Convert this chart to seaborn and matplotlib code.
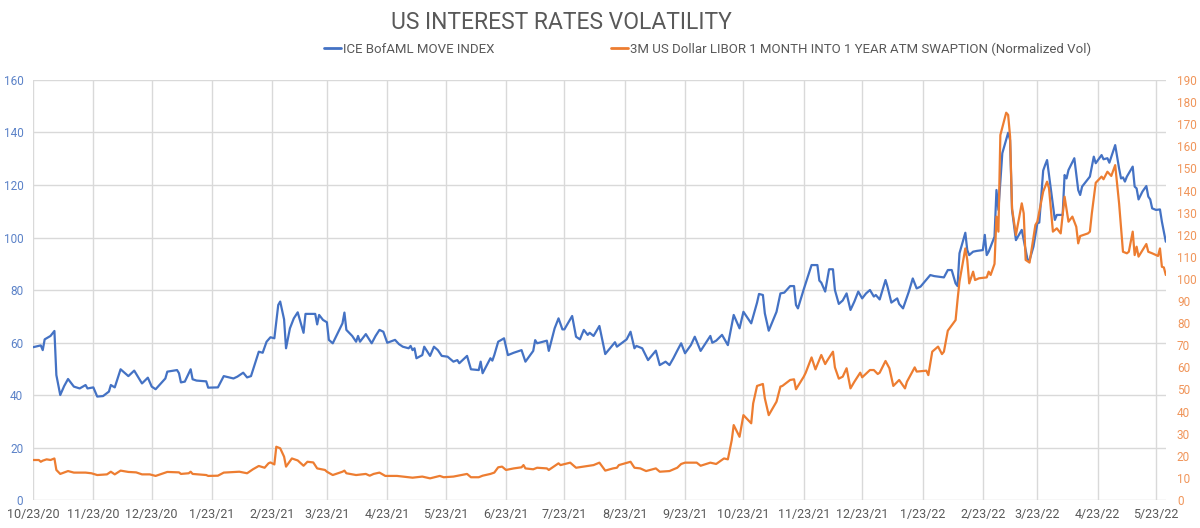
import numpy as np
import pandas as pd
import matplotlib
matplotlib.use("Agg")
import matplotlib.pyplot as plt
import matplotlib.dates as mdates
from matplotlib.lines import Line2D
import seaborn as sns

# ---------------- data ----------------
start_date = "2020-10-23"
end_day = 582  # last observation, days after start_date

# ICE BofAML MOVE INDEX (left axis); days after start_date
move_day = [0, 3, 4, 5, 6, 9, 11, 12, 14, 16, 18, 21, 24, 27, 28, 31, 33, 36, 39, 40,
            42, 45, 49, 52, 56, 59, 61, 63, 68, 69, 74, 75, 76, 78, 81, 82, 84, 89, 90, 95,
            98, 103, 105, 108, 110, 112, 116, 118, 120, 122, 124, 126, 127, 129, 130, 132, 134, 136, 139, 140,
            145, 146, 147, 149, 151, 152, 154, 159, 160, 161, 164, 166, 167, 168, 171, 174, 176, 178, 180, 182,
            186, 188, 190, 193, 194, 195, 196, 197, 200, 201, 204, 206, 208, 210, 213, 216, 218, 219, 223, 225,
            229, 230, 231, 235, 236, 237, 239, 242, 244, 247, 251, 253, 257, 258, 259, 264, 265, 268, 270, 272,
            273, 277, 279, 281, 283, 285, 286, 288, 291, 294, 299, 300, 305, 307, 309, 310, 313, 316, 320, 322,
            325, 327, 329, 331, 333, 335, 338, 340, 343, 348, 349, 351, 354, 357, 360, 363, 365, 369, 372, 373,
            375, 376, 378, 382, 384, 386, 389, 391, 392, 393, 396, 400, 403, 404, 405, 407, 409, 411, 412, 414,
            416, 418, 420, 422, 424, 426, 428, 430, 432, 433, 435, 438, 439, 441, 444, 445, 447, 450, 452, 454,
            456, 461, 463, 468, 470, 472, 474, 475, 476, 479, 480, 481, 483, 485, 488, 489, 490, 491, 494, 495,
            496, 498, 501, 502, 503, 505, 507, 508, 509, 511, 512, 514, 516, 517, 519, 520, 521, 525, 526, 529,
            530, 531, 532, 535, 537, 538, 539, 541, 543, 544, 545, 546, 549, 550, 552, 553, 556, 558, 559, 560,
            561, 562, 565, 566, 567, 568, 570, 572, 573, 574, 575, 577, 579, 580, 582]
move_val = [58.2, 58.7, 58.9, 57.1, 61.2, 62.5, 64.4, 47.6, 40.0, 43.4, 46.1, 43.2, 42.5, 43.8, 42.5, 42.9, 39.4, 39.6, 41.3, 43.8,
            42.9, 49.8, 47.2, 49.3, 44.4, 46.6, 43.2, 42.2, 46.3, 48.9, 49.5, 48.3, 44.8, 45.1, 49.8, 46.0, 45.5, 45.2, 42.8, 42.9,
            47.2, 46.3, 47.0, 48.5, 46.7, 47.2, 56.5, 56.1, 60.3, 62.0, 61.6, 74.3, 75.6, 68.8, 57.8, 65.4, 69.2, 71.5, 63.7, 70.9,
            70.9, 66.9, 70.5, 68.6, 67.7, 61.0, 59.7, 67.3, 71.4, 64.8, 62.5, 60.3, 62.5, 60.3, 63.2, 59.7, 62.5, 64.8, 64.1, 59.9,
            61.0, 59.4, 58.4, 57.8, 58.7, 57.1, 57.8, 54.0, 55.2, 58.4, 54.9, 58.4, 57.1, 54.9, 54.6, 52.7, 53.3, 52.1, 54.9, 49.8,
            49.5, 52.7, 48.3, 54.0, 53.1, 55.2, 60.3, 61.6, 55.2, 56.1, 57.1, 52.7, 56.8, 60.9, 59.7, 60.7, 56.8, 65.4, 69.2, 65.0,
            65.0, 70.1, 62.2, 61.2, 64.8, 62.9, 63.7, 62.5, 66.3, 55.6, 60.1, 58.4, 61.2, 64.1, 57.8, 58.7, 57.8, 53.3, 56.9, 51.4,
            52.7, 51.4, 54.0, 56.9, 59.7, 55.9, 59.0, 62.2, 56.8, 62.5, 59.9, 60.7, 62.9, 59.0, 70.5, 65.4, 71.7, 67.3, 75.2, 78.5,
            78.1, 71.1, 64.5, 71.7, 78.7, 79.0, 81.5, 81.5, 74.3, 73.0, 80.3, 89.5, 89.5, 83.6, 82.8, 79.4, 87.9, 87.9, 80.0, 74.7,
            76.0, 78.7, 72.4, 75.6, 79.4, 76.8, 78.7, 80.0, 77.5, 78.1, 76.4, 83.8, 81.3, 75.2, 76.8, 74.7, 73.0, 79.4, 84.4, 80.6,
            81.3, 85.7, 85.3, 84.8, 87.6, 87.6, 82.5, 81.5, 94.0, 101.8, 95.2, 93.3, 94.6, 94.9, 95.2, 101.0, 93.3, 94.6, 100.3, 118.1,
            110.5, 132.1, 139.9, 137.1, 110.5, 99.0, 101.6, 102.9, 99.0, 91.4, 91.4, 96.5, 105.4, 105.7, 125.5, 127.6, 129.5, 106.7, 108.6, 108.6,
            123.8, 122.5, 125.7, 130.2, 118.1, 116.2, 119.4, 121.3, 123.2, 127.0, 130.8, 128.3, 131.4, 129.8, 130.2, 128.5, 135.2, 126.3, 122.5, 122.9,
            121.3, 123.2, 127.0, 119.4, 118.7, 114.5, 117.5, 119.6, 115.6, 114.5, 111.1, 110.5, 110.7, 106.0, 98.4]

# 3M USD LIBOR 1M into 1Y ATM swaption normalized vol (right axis); days after start_date
swpt_day = [0, 3, 4, 5, 7, 9, 11, 12, 14, 18, 21, 27, 30, 33, 38, 40, 42, 45, 49, 53,
            56, 60, 63, 67, 69, 75, 76, 80, 81, 82, 89, 90, 95, 98, 106, 110, 113, 116, 119, 121,
            122, 124, 125, 127, 129, 130, 133, 136, 139, 141, 144, 146, 150, 151, 154, 159, 160, 161, 166, 171,
            173, 175, 178, 181, 187, 195, 200, 204, 209, 211, 216, 223, 225, 229, 231, 235, 237, 239, 241, 243,
            247, 251, 252, 253, 257, 259, 264, 265, 270, 271, 276, 279, 285, 288, 291, 294, 298, 300, 301, 307,
            309, 312, 315, 320, 322, 327, 331, 333, 335, 341, 343, 348, 351, 355, 357, 359, 360, 363, 365, 369,
            370, 372, 375, 376, 378, 382, 384, 385, 389, 391, 392, 396, 397, 400, 402, 405, 407, 408, 411, 412,
            414, 416, 418, 420, 422, 425, 426, 430, 432, 434, 435, 438, 440, 442, 445, 448, 449, 453, 454, 459,
            460, 462, 465, 467, 468, 470, 474, 475, 476, 479, 480, 481, 483, 484, 486, 490, 491, 492, 494, 495,
            496, 497, 500, 501, 502, 503, 505, 508, 509, 510, 512, 515, 516, 519, 521, 522, 524, 526, 528, 530,
            532, 534, 536, 537, 538, 542, 543, 544, 546, 549, 550, 552, 554, 556, 558, 560, 562, 563, 565, 566,
            567, 568, 572, 573, 575, 578, 579, 580, 581, 582]
swpt_val = [18.1, 18.1, 17.3, 17.8, 18.4, 18.1, 18.8, 13.6, 11.8, 13.1, 12.4, 12.4, 12.1, 11.3, 11.6, 12.8, 11.6, 13.3, 12.7, 12.5,
            11.6, 11.6, 10.9, 12.1, 12.7, 12.5, 11.8, 12.1, 12.8, 11.8, 11.3, 10.9, 11.0, 12.4, 12.8, 12.1, 13.9, 15.4, 14.6, 16.6,
            17.0, 16.1, 24.1, 23.4, 19.6, 15.1, 18.8, 17.9, 15.5, 17.3, 17.0, 14.3, 13.6, 12.8, 11.3, 12.8, 13.3, 12.1, 11.3, 11.8,
            11.0, 11.8, 12.4, 10.9, 10.9, 10.1, 10.6, 9.8, 10.9, 10.3, 10.6, 11.8, 10.3, 10.3, 11.0, 11.8, 12.4, 14.8, 15.1, 13.6,
            14.3, 14.8, 15.8, 14.3, 13.9, 14.6, 14.3, 13.6, 16.6, 15.8, 16.9, 14.6, 15.4, 15.8, 16.9, 13.3, 14.3, 14.6, 15.8, 17.3,
            14.6, 14.3, 13.1, 14.3, 12.8, 13.1, 14.6, 16.3, 16.9, 16.9, 15.5, 16.9, 16.3, 18.8, 18.4, 27.1, 33.9, 28.6, 38.4, 34.7,
            43.7, 51.6, 52.5, 46.0, 38.4, 44.5, 51.3, 51.6, 54.3, 54.6, 50.1, 55.8, 57.6, 64.5, 59.1, 65.6, 61.5, 63.0, 67.1, 60.0,
            54.9, 55.8, 59.6, 50.5, 53.5, 57.6, 55.5, 58.8, 58.8, 57.0, 57.6, 62.9, 59.6, 51.6, 54.3, 50.5, 53.5, 60.0, 58.1, 58.5,
            56.5, 67.1, 69.4, 66.0, 67.1, 76.6, 81.4, 90.5, 98.8, 113.8, 108.6, 98.0, 103.3, 99.5, 100.3, 100.7, 103.3, 101.8, 106.8, 128.2,
            121.4, 165.1, 175.2, 174.2, 164.4, 131.9, 119.9, 134.2, 129.7, 108.6, 107.4, 124.4, 125.9, 139.5, 144.0, 141.0, 121.4, 122.9, 120.6, 137.2,
            125.9, 128.2, 123.6, 116.1, 119.4, 120.6, 121.4, 129.7, 143.5, 146.3, 145.1, 148.5, 146.6, 151.5, 134.2, 112.3, 111.6, 112.3, 121.4, 110.8,
            114.6, 110.1, 115.8, 112.3, 111.6, 110.4, 113.8, 105.5, 105.2, 101.8]

title = "US INTEREST RATES VOLATILITY"
label_move = "ICE BofAML MOVE INDEX"
label_swpt = "3M US Dollar LIBOR 1 MONTH INTO 1 YEAR ATM SWAPTION (Normalized Vol)"
left_ticks = list(range(0, 161, 20))
right_ticks = list(range(0, 191, 10))

# ---------------- build frames ----------------
t0 = pd.Timestamp(start_date)
df_move = pd.DataFrame({"date": t0 + pd.to_timedelta(move_day, unit="D"), "value": move_val})
df_swpt = pd.DataFrame({"date": t0 + pd.to_timedelta(swpt_day, unit="D"), "value": swpt_val})

# ---------------- style ----------------
sns.set_style("white")
plt.rcParams["font.family"] = ["Roboto", "DejaVu Sans"]

BLUE = "#4472C4"
ORANGE = "#ED7D31"
GRID = "#D9D9D9"
TEXT = "#595959"

fig = plt.figure(figsize=(12, 5.28), dpi=100)
ax = fig.add_axes([0.0275, 0.053, 0.944, 0.7955])
ax2 = ax.twinx()

sns.lineplot(data=df_move, x="date", y="value", ax=ax, color=BLUE, lw=1.6, legend=False)
sns.lineplot(data=df_swpt, x="date", y="value", ax=ax2, color=ORANGE, lw=1.6, legend=False)

# axes limits & ticks
ax.set_xlim(t0, t0 + pd.Timedelta(days=end_day))
ax.set_ylim(0, 160)
ax2.set_ylim(0, 190)
ax.set_yticks(left_ticks)
ax2.set_yticks(right_ticks)

month_ticks = [t0 + pd.DateOffset(months=i) for i in range(20)]
ax.set_xticks(month_ticks)
ax.xaxis.set_major_formatter(mdates.DateFormatter("%-m/%-d/%y"))

ax.grid(True, axis="both", color=GRID, lw=1)
ax2.grid(False)
ax.set_axisbelow(True)
for a in (ax, ax2):
    for s in a.spines.values():
        s.set_visible(False)
    a.set_xlabel("")
    a.set_ylabel("")

ax.tick_params(axis="x", colors=TEXT, labelsize=9, length=4, color=GRID, pad=2)
ax.tick_params(axis="y", colors="#5B82C8", labelsize=8.5, length=0, pad=7)
ax2.tick_params(axis="y", colors="#F0955A", labelsize=8.5, length=0, pad=8)
for lbl in ax.get_xticklabels():
    lbl.set_color(TEXT)

# title & legend
fig.text(0.4675, 0.958, title, ha="center", va="center", fontsize=16.5, color=TEXT)
handles = [Line2D([], [], color=BLUE, lw=2), Line2D([], [], color=ORANGE, lw=2)]
leg = fig.legend(handles, [label_move, label_swpt], loc="center", bbox_to_anchor=(0.5896, 0.907),
                 ncol=2, frameon=False, fontsize=9.5, handlelength=1.3, handletextpad=0.15,
                 columnspacing=8.8)
for t in leg.get_texts():
    t.set_color(TEXT)

fig.savefig("out.png", dpi=100)
